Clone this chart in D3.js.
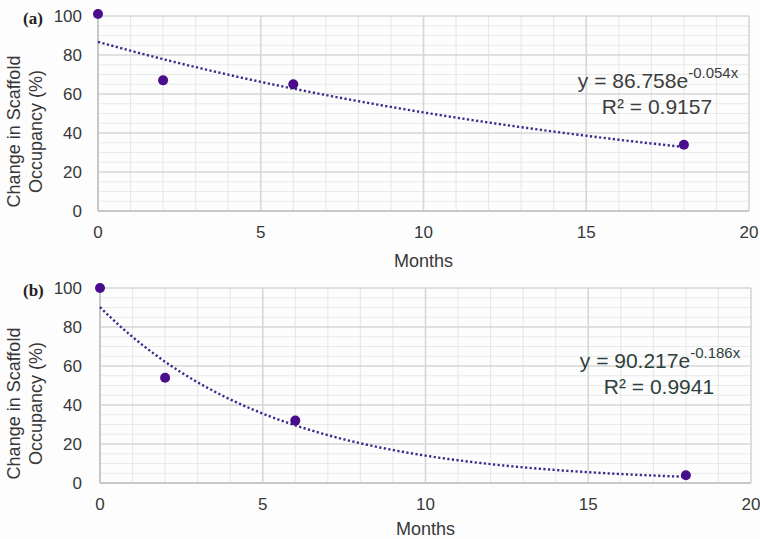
<!DOCTYPE html>
<html><head><meta charset="utf-8">
<script src="https://cdn.jsdelivr.net/npm/d3@7"></script>
<style>
html,body{margin:0;padding:0;background:#fdfdfd;}
svg{display:block;}
</style></head>
<body>
<svg id="c" width="760" height="539"></svg>
<script>
// ---- data ----
const months = [0, 2, 6, 18];
const occupancyA = [101, 67, 65, 34];
const occupancyB = [100, 54, 32, 4];
const fitA = [86.758, -0.054];   // y = a * e^(b x)
const fitB = [90.217, -0.186];
const eqTextA = ["y = 86.758e", "-0.054x", "R² = 0.9157"];
const eqTextB = ["y = 90.217e", "-0.186x", "R² = 0.9941"];
const xTicks = [0, 5, 10, 15, 20];
const yTicks = [0, 20, 40, 60, 80, 100];
const panelLabels = ["(a)", "(b)"];

const svg = d3.select("#c");
const font = "Liberation Sans, Arial, sans-serif";

const panels = [
  {label: panelLabels[0], vals: occupancyA, fit: fitA, eq: eqTextA, x0: 98, x1: 749, yTop: 16, yBot: 211, eqX: 658, eqY: 88, eqColor: "#3d3d3d", titleY: 56},
  {label: panelLabels[1], vals: occupancyB, fit: fitB, eq: eqTextB, x0: 100, x1: 751, yTop: 288, yBot: 483, eqX: 660, eqY: 368, eqColor: "#2f3f3c", titleY: 52}
];

panels.forEach(p => {
  const x = d3.scaleLinear().domain([0, 20]).range([p.x0, p.x1]);
  const y = d3.scaleLinear().domain([0, 100]).range([p.yBot, p.yTop]);
  const g = svg.append("g");

  // minor grid
  g.selectAll(".vmin").data(d3.range(1, 20).filter(v => v % 5 !== 0)).join("line")
    .attr("x1", d => x(d)).attr("x2", d => x(d)).attr("y1", y(0)).attr("y2", y(100))
    .attr("stroke", "#e6ebe8").attr("stroke-width", 1.2);
  g.selectAll(".hmin").data(d3.range(5, 100, 5).filter(v => v % 20 !== 0)).join("line")
    .attr("x1", x(0)).attr("x2", x(20)).attr("y1", d => y(d)).attr("y2", d => y(d))
    .attr("stroke", "#e6ebe8").attr("stroke-width", 1.2);
  // major grid
  g.selectAll(".vmaj").data(xTicks.slice(1)).join("line")
    .attr("x1", d => x(d)).attr("x2", d => x(d)).attr("y1", y(0)).attr("y2", y(100))
    .attr("stroke", "#d3d9d5").attr("stroke-width", 1.6);
  g.selectAll(".hmaj").data(yTicks.slice(1)).join("line")
    .attr("x1", x(0)).attr("x2", x(20)).attr("y1", d => y(d)).attr("y2", d => y(d))
    .attr("stroke", "#d3d9d5").attr("stroke-width", 1.6);
  // axes lines
  g.append("line").attr("x1", x(0)).attr("x2", x(20)).attr("y1", y(0)).attr("y2", y(0))
    .attr("stroke", "#c4cbc7").attr("stroke-width", 2);
  g.append("line").attr("x1", x(0)).attr("x2", x(0)).attr("y1", y(0)).attr("y2", y(100))
    .attr("stroke", "#c4cbc7").attr("stroke-width", 2);

  // tick labels
  g.selectAll(".yt").data(yTicks).join("text")
    .attr("x", 82).attr("y", d => y(d) + 6).attr("text-anchor", "end")
    .attr("font-family", font).attr("font-size", 17).attr("fill", "#383838").text(d => d);
  g.selectAll(".xt").data(xTicks).join("text")
    .attr("x", d => x(d)).attr("y", y(0) + 27).attr("text-anchor", "middle")
    .attr("font-family", font).attr("font-size", 17).attr("fill", "#383838").text(d => d);

  // axis titles
  g.append("text").attr("x", x(10)).attr("y", y(0) + p.titleY).attr("text-anchor", "middle")
    .attr("font-family", font).attr("font-size", 18).attr("fill", "#383838").text("Months");
  const yc = (p.yTop + p.yBot) / 2 + 18;
  const yt = g.append("text").attr("transform", `translate(0,${yc}) rotate(-90)`)
    .attr("text-anchor", "middle").attr("font-family", font).attr("font-size", 18).attr("fill", "#383838");
  yt.append("tspan").attr("x", 0).attr("y", 20).text("Change in Scaffold");
  yt.append("tspan").attr("x", 0).attr("y", 42).text("Occupancy (%)");

  // panel label
  g.append("text").attr("x", 23).attr("y", p.yTop + 8)
    .attr("font-family", "Liberation Serif, Times New Roman, serif").attr("font-weight", "bold")
    .attr("font-size", 17).attr("fill", "#222").text(p.label);

  // trendline from the displayed fit equation
  const xs = d3.range(0, 18.001, 0.1);
  const line = d3.line().x(d => x(d)).y(d => y(p.fit[0] * Math.exp(p.fit[1] * d)));
  g.append("path").datum(xs).attr("d", line).attr("fill", "none")
    .attr("stroke", "#3b2a8c").attr("stroke-width", 2.4).attr("stroke-dasharray", "2.2 2.4");

  // points
  g.selectAll(".pt").data(months.map((m, i) => [m, p.vals[i]])).join("circle")
    .attr("cx", d => x(d[0])).attr("cy", d => y(d[1])).attr("r", 5)
    .attr("fill", "#4a0e8c");

  // equation
  const eq = g.append("text").attr("x", p.eqX).attr("y", p.eqY).attr("text-anchor", "middle")
    .attr("font-family", font).attr("font-size", 21).attr("fill", p.eqColor);
  eq.append("tspan").text(p.eq[0]);
  eq.append("tspan").attr("font-size", 15).attr("dy", -10).text(p.eq[1]);
  g.append("text").attr("x", p.eqX - 1).attr("y", p.eqY + 26).attr("text-anchor", "middle")
    .attr("font-family", font).attr("font-size", 21).attr("fill", p.eqColor).text(p.eq[2]);
});
</script>
</body></html>
